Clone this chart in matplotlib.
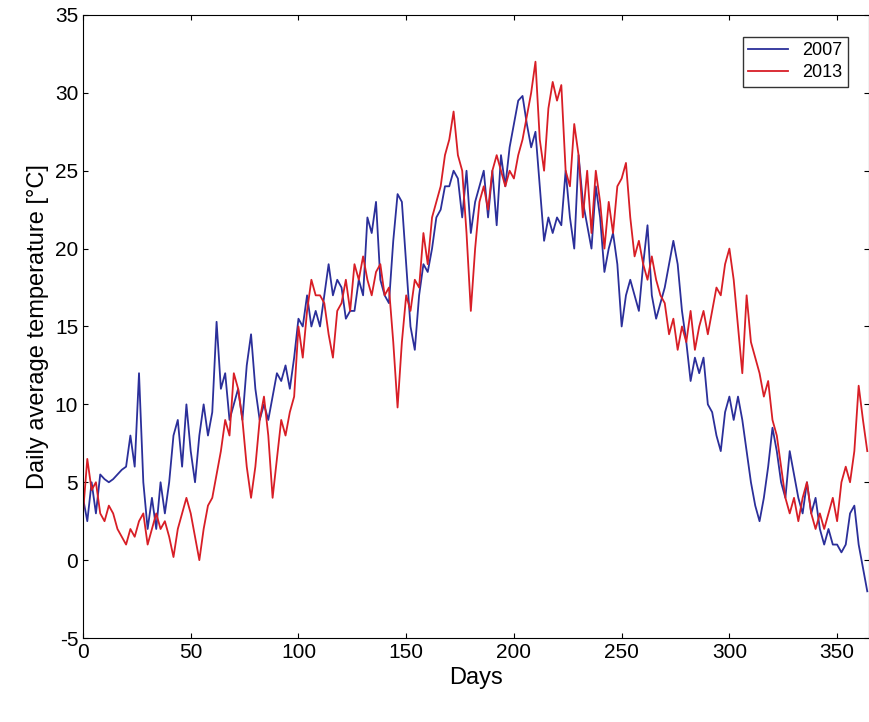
import numpy as np
import matplotlib.pyplot as plt

plt.rcParams['font.family'] = ['Liberation Sans', 'DejaVu Sans']
plt.rcParams['axes.unicode_minus'] = False

days = list(range(0, 365, 2))

t2007 = [4, 2.5, 5, 3, 5.5, 5.2, 5, 5.2, 5.5, 5.8, 6, 8, 6, 12, 5, 2,
         4, 2, 5, 3, 5, 8, 9, 6, 10, 7, 5, 8, 10, 8, 9.5, 15.3,
         11, 12, 9, 10, 11, 9, 12.5, 14.5, 11, 9, 10, 9, 10.5, 12, 11.5, 12.5,
         11, 13, 15.5, 15, 17, 15, 16, 15, 17, 19, 17, 18, 17.5, 15.5, 16, 16,
         18, 17, 22, 21, 23, 18, 17, 16.5, 20.5, 23.5, 23, 19, 15, 13.5, 17, 19,
         18.5, 20, 22, 22.5, 24, 24, 25, 24.5, 22, 25, 21, 23, 24, 25, 22, 25,
         21.5, 26, 24, 26.5, 28, 29.5, 29.8, 28, 26.5, 27.5, 24, 20.5, 22, 21, 22, 21.5,
         25, 22, 20, 26, 23, 21.5, 20, 24, 22, 18.5, 20, 21, 19, 15, 17, 18,
         17, 16, 19, 21.5, 17, 15.5, 16.5, 17.5, 19, 20.5, 19, 16, 14, 11.5, 13, 12,
         13, 10, 9.5, 8, 7, 9.5, 10.5, 9, 10.5, 9, 7, 5, 3.5, 2.5, 4, 6,
         8.5, 7, 5, 4, 7, 5.5, 4, 3, 5, 3, 4, 2, 1, 2, 1, 1,
         0.5, 1, 3, 3.5, 1, -0.5, -2]

t2013 = [3, 6.5, 4.5, 5, 3, 2.5, 3.5, 3, 2, 1.5, 1, 2, 1.5, 2.5, 3, 1,
         2, 3, 2, 2.5, 1.5, 0.2, 2, 3, 4, 3, 1.5, 0, 2, 3.5, 4, 5.5,
         7, 9, 8, 12, 11, 9, 6, 4, 6, 9, 10.5, 8, 4, 6.5, 9, 8,
         9.5, 10.5, 15, 13, 16, 18, 17, 17, 16.5, 14.5, 13, 16, 16.5, 18, 16, 19,
         18, 19.5, 18, 17, 18.5, 19, 17, 17.5, 14, 9.8, 14, 17, 16, 18, 17.5, 21,
         19, 22, 23, 24, 26, 27, 28.8, 26, 25, 21, 16, 20, 23, 24, 22.5, 25,
         26, 25, 24, 25, 24.5, 26, 27, 28.5, 30, 32, 27, 25, 29, 30.7, 29.5, 30.5,
         25, 24, 28, 26, 22, 25, 21, 25, 23, 20, 23, 21, 24, 24.5, 25.5, 22,
         19.5, 20.5, 19, 18, 19.5, 18, 17, 16.5, 14.5, 15.5, 13.5, 15, 14, 16, 13.5, 15,
         16, 14.5, 16, 17.5, 17, 19, 20, 18, 15, 12, 17, 14, 13, 12, 10.5, 11.5,
         9, 8, 6, 4, 3, 4, 2.5, 4, 5, 3, 2, 3, 2, 3, 4, 2.5,
         5, 6, 5, 7, 11.2, 9, 7]

fig = plt.figure(figsize=(8.69, 7.22), dpi=100)
ax = fig.add_axes([0.0955, 0.1163, 0.905, 0.863])
ax.plot(days, t2007, color='#2b2f9a', lw=1.3, label='2007')
ax.plot(days, t2013, color='#d81e26', lw=1.3, label='2013')
ax.set_xlim(0, 365)
ax.set_ylim(-5, 35)
ax.set_xticks(range(0, 351, 50))
ax.set_yticks(range(-5, 36, 5))
ax.tick_params(direction='in', labelsize=15, top=True, right=True)
ax.set_xlabel('Days', fontsize=17)
ax.set_ylabel('Daily average temperature [°C]', fontsize=17)
leg = ax.legend(loc='upper right', fontsize=13, fancybox=False, edgecolor='black',
                handlelength=2.2, borderaxespad=1.2, borderpad=0.3, labelspacing=0.3)
fig.savefig('out.png')
